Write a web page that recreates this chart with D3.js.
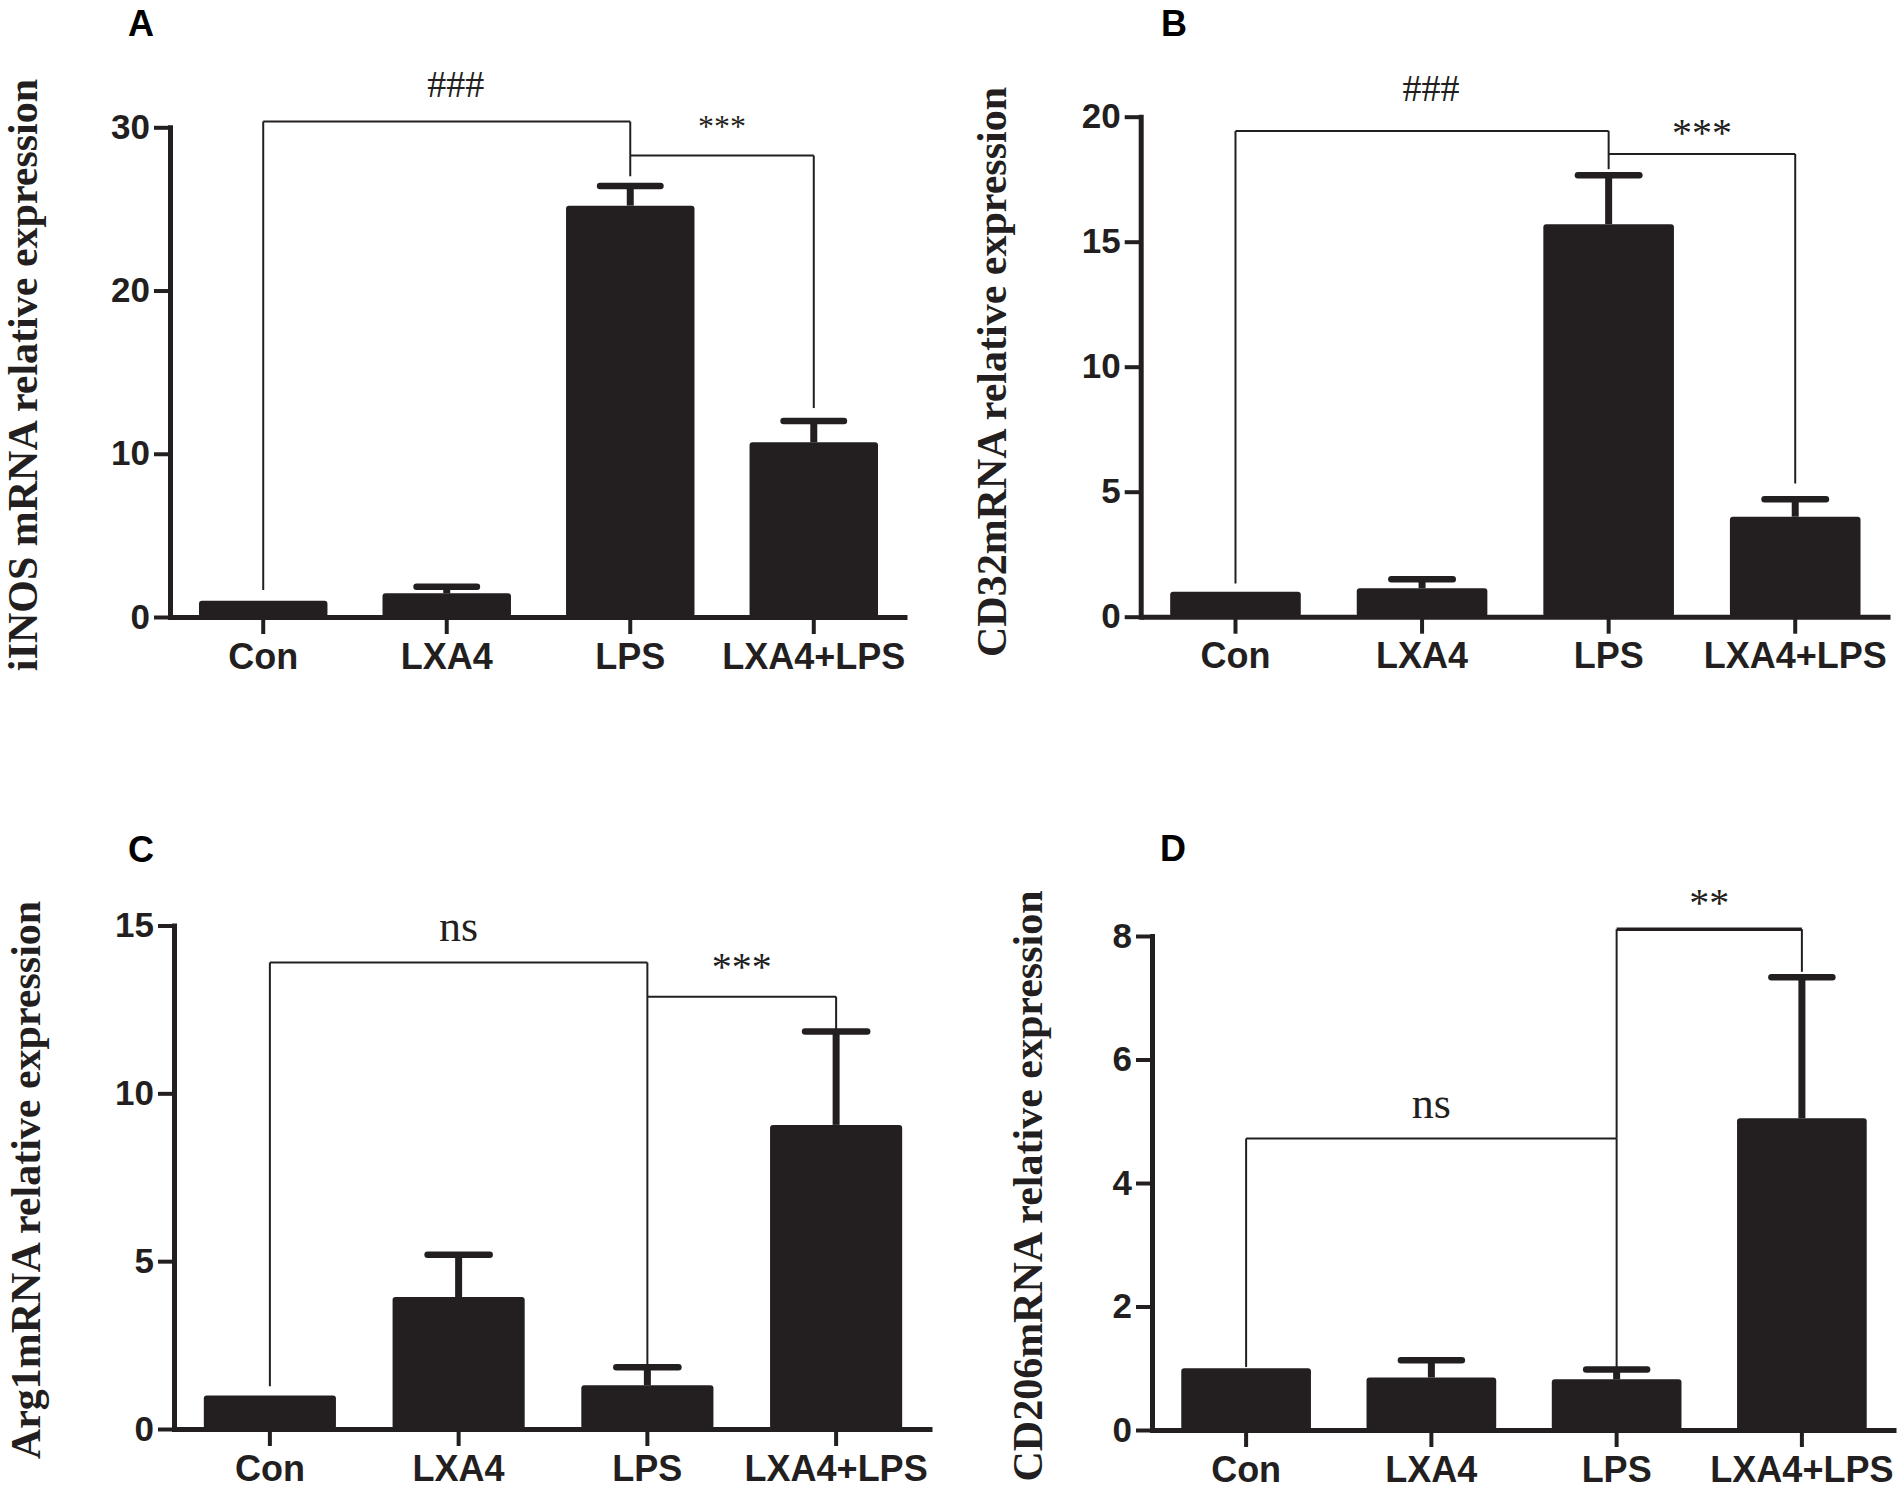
<!DOCTYPE html>
<html>
<head>
<meta charset="utf-8">
<script src="https://cdn.jsdelivr.net/npm/d3@7.9.0/dist/d3.min.js"></script>
<style>
  body { margin: 0; background: #fff; }
  svg { display: block; }
  .axis text { font-family: "Liberation Sans", Arial, sans-serif; font-weight: bold; fill: #231f20; }
  .xaxis text { font-size: 36px; }
  .yaxis text { font-size: 35px; }
</style>
</head>
<body>
<svg id="fig" width="1904" height="1491"></svg>
<script>
// ---------- data ----------
const categories = ["Con", "LXA4", "LPS", "LXA4+LPS"];

const inosMean  = [1.0, 1.45, 25.2, 10.7];
const inosSem   = [0, 0.41, 1.2, 1.3];
const cd32Mean  = [1.0, 1.14, 15.7, 4.0];
const cd32Sem   = [0, 0.36, 1.96, 0.7];
const arg1Mean  = [1.0, 3.93, 1.3, 9.06];
const arg1Sem   = [0, 1.26, 0.54, 2.78];
const cd206Mean = [1.0, 0.85, 0.82, 5.05];
const cd206Sem  = [0, 0.28, 0.16, 2.28];

const inosTicks  = [0, 10, 20, 30];
const cd32Ticks  = [0, 5, 10, 15, 20];
const arg1Ticks  = [0, 5, 10, 15];
const cd206Ticks = [0, 2, 4, 6, 8];

// significance brackets: [fromCat, toCat, level, leftEnd, rightEnd, label, labelBaseline]
const inosBrackets  = [[0, 2, 30.35, 1.65, 27.0, "###", 31.84], [2, 3, 28.27, null, 12.8, "***", 29.43]];
const cd32Brackets  = [[0, 2, 19.43, 1.33, 17.9, "###", 20.64], [2, 3, 18.51, null, 5.33, "***", 18.83]];
const arg1Brackets  = [[0, 2, 13.9, 1.27, 1.9, "ns", 14.54], [2, 3, 12.88, null, 11.9, "***", 13.37]];
const cd206Brackets = [[0, 2, 4.72, 1.02, 1.0, "ns", 5.05], [2, 3, 8.11, 4.72, 7.42, "**", 8.33]];

// ---------- layout ----------
const ink = "#231f20";
const panels = [
  { letter: "A", mean: inosMean, sem: inosSem, ticks: inosTicks, brackets: inosBrackets,
    title: "iINOS mRNA relative expression",
    x0: 170, xEnd: 907, y0: 617, yTop: 127.3, titleX: 37, titleY: 375, letterX: 128, letterY: 36, star: 32, thickTop: false },
  { letter: "B", mean: cd32Mean, sem: cd32Sem, ticks: cd32Ticks, brackets: cd32Brackets,
    title: "CD32mRNA relative expression",
    x0: 1140.7, xEnd: 1890, y0: 616.7, yTop: 116.7, titleX: 1006, titleY: 372, letterX: 1161, letterY: 36, star: 40, thickTop: false },
  { letter: "C", mean: arg1Mean, sem: arg1Sem, ticks: arg1Ticks, brackets: arg1Brackets,
    title: "Arg1mRNA relative expression",
    x0: 174, xEnd: 932, y0: 1429, yTop: 925.5, titleX: 40, titleY: 1180, letterX: 128, letterY: 862, star: 40, thickTop: false },
  { letter: "D", mean: cd206Mean, sem: cd206Sem, ticks: cd206Ticks, brackets: cd206Brackets,
    title: "CD206mRNA relative expression",
    x0: 1152, xEnd: 1896, y0: 1430, yTop: 936, titleX: 1042, titleY: 1186, letterX: 1160, letterY: 861, star: 40, thickTop: true }
];

const svg = d3.select("#fig");
svg.append("rect").attr("width", 1904).attr("height", 1491).attr("fill", "#fff");

panels.forEach(p => {
  const g = svg.append("g");

  const x = d3.scaleBand()
    .domain(categories)
    .range([p.x0, p.xEnd])
    .paddingInner(0.3)
    .paddingOuter(0.158);

  const y = d3.scaleLinear()
    .domain([0, d3.max(p.ticks)])
    .range([p.y0, p.yTop]);

  const cx = i => x(categories[i]) + x.bandwidth() / 2;

  // brackets (behind bars)
  p.brackets.forEach(b => {
    const [from, to, level, leftEnd, rightEnd] = b;
    const thick = p.thickTop && b[5] === "**";
    g.append("line")
      .attr("x1", cx(from)).attr("x2", cx(to))
      .attr("y1", y(level)).attr("y2", y(level))
      .attr("stroke", ink).attr("stroke-width", thick ? 3.5 : 2);
    if (leftEnd !== null) {
      g.append("line")
        .attr("x1", cx(from)).attr("x2", cx(from))
        .attr("y1", y(level)).attr("y2", y(leftEnd))
        .attr("stroke", ink).attr("stroke-width", 2);
    }
    g.append("line")
      .attr("x1", cx(to)).attr("x2", cx(to))
      .attr("y1", y(level)).attr("y2", y(rightEnd))
      .attr("stroke", ink).attr("stroke-width", 2);

    const lab = b[5];
    const size = lab === "###" ? 38 : lab === "ns" ? 44 : p.star;
    g.append("text")
      .attr("x", (cx(from) + cx(to)) / 2 + (lab === "###" ? 9 : 0))
      .attr("y", y(b[6]))
      .attr("text-anchor", "middle")
      .attr("font-family", "'Liberation Serif', 'Times New Roman', serif")
      .attr("font-size", size)
      .attr("fill", ink)
      .text(lab);
  });

  // bars
  g.selectAll(".bar")
    .data(p.mean)
    .join("rect")
    .attr("class", "bar")
    .attr("x", (d, i) => x(categories[i]))
    .attr("width", x.bandwidth())
    .attr("y", d => y(d))
    .attr("height", d => p.y0 - y(d))
    .attr("rx", 3)
    .attr("fill", ink);

  // error bars (upper only)
  const capHalf = x.bandwidth() * 0.235;
  p.mean.forEach((m, i) => {
    if (p.sem[i] <= 0) return;
    g.append("line")
      .attr("x1", cx(i)).attr("x2", cx(i))
      .attr("y1", y(m)).attr("y2", y(m + p.sem[i]))
      .attr("stroke", ink).attr("stroke-width", 7);
    g.append("line")
      .attr("x1", cx(i) - capHalf).attr("x2", cx(i) + capHalf)
      .attr("y1", y(m + p.sem[i])).attr("y2", y(m + p.sem[i]))
      .attr("stroke", ink).attr("stroke-width", 6.5)
      .attr("stroke-linecap", "round");
  });

  // y axis
  const yAxis = g.append("g")
    .attr("class", "axis yaxis")
    .attr("transform", `translate(${p.x0},0)`)
    .call(d3.axisLeft(y).tickValues(p.ticks).tickSize(16).tickPadding(4).tickSizeOuter(0).tickFormat(d3.format("d")));
  yAxis.select(".domain").attr("stroke", ink).attr("stroke-width", 5).attr("stroke-linecap", "square");
  yAxis.selectAll(".tick line").attr("stroke", ink).attr("stroke-width", 4);

  // x axis
  const xAxis = g.append("g")
    .attr("class", "axis xaxis")
    .attr("transform", `translate(0,${p.y0})`)
    .call(d3.axisBottom(x).tickSize(17).tickPadding(9).tickSizeOuter(0));
  xAxis.select(".domain").attr("stroke", ink).attr("stroke-width", 5);
  xAxis.selectAll(".tick line").attr("stroke", ink).attr("stroke-width", 4);

  // axis title
  g.append("text")
    .attr("transform", `translate(${p.titleX},${p.titleY}) rotate(-90)`)
    .attr("text-anchor", "middle")
    .attr("font-family", "'Liberation Serif', 'Times New Roman', serif")
    .attr("font-weight", "bold")
    .attr("font-size", 42)
    .attr("fill", ink)
    .text(p.title);

  // panel letter
  g.append("text")
    .attr("x", p.letterX)
    .attr("y", p.letterY)
    .attr("font-family", "'Liberation Sans', Arial, sans-serif")
    .attr("font-weight", "bold")
    .attr("font-size", 36)
    .attr("fill", "#000")
    .text(p.letter);
});
</script>
</body>
</html>
